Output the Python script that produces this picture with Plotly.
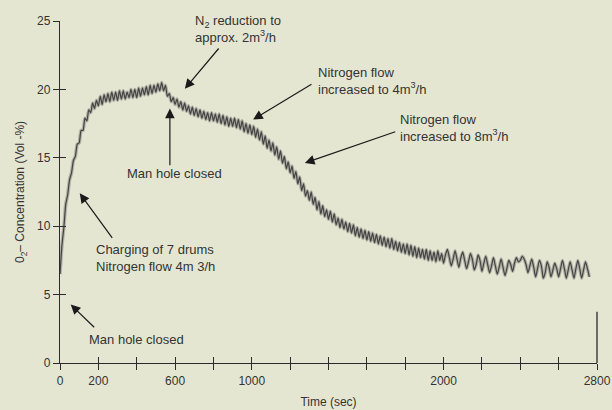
import plotly.graph_objects as go

# Sample times (s), every 10 s
TIME_SEC = list(range(0, 2770, 10))

# O2 concentration (Vol-%), one row per 100 s
O2_CONC = [
    6.5, 8.6, 9.9, 11.6, 12.3, 13.4, 13.9, 14.8, 15.1, 16.0,
    16.1, 17.0, 17.0, 17.9, 17.7, 18.5, 18.3, 19.0, 18.6, 19.2,
    18.8, 19.5, 18.9, 19.6, 19.1, 19.7, 19.1, 19.8, 19.2, 19.8,
    19.2, 19.9, 19.3, 19.9, 19.3, 19.8, 19.4, 20.0, 19.4, 20.0,
    19.4, 20.1, 19.5, 20.1, 19.6, 20.2, 19.6, 20.3, 19.7, 20.3,
    19.8, 20.4, 19.9, 20.5, 19.9, 20.3, 19.5, 19.7, 19.1, 19.4,
    18.9, 19.3, 18.7, 19.1, 18.5, 19.0, 18.4, 18.8, 18.2, 18.7,
    18.1, 18.6, 18.0, 18.5, 17.9, 18.4, 17.8, 18.3, 17.7, 18.3,
    17.7, 18.2, 17.6, 18.2, 17.5, 18.1, 17.4, 18.0, 17.3, 17.9,
    17.3, 17.9, 17.2, 17.8, 17.1, 17.7, 16.9, 17.5, 16.8, 17.4,
    16.7, 17.3, 16.5, 17.1, 16.3, 16.9, 16.0, 16.6, 15.7, 16.3,
    15.5, 16.1, 15.2, 15.8, 14.9, 15.5, 14.6, 15.1, 14.2, 14.7,
    13.9, 14.4, 13.5, 14.0, 13.1, 13.6, 12.6, 13.1, 12.2, 12.6,
    11.9, 12.5, 11.6, 12.1, 11.2, 11.8, 10.9, 11.5, 10.7, 11.2,
    10.5, 11.1, 10.3, 10.9, 10.1, 10.6, 9.9, 10.5, 9.8, 10.3,
    9.6, 10.2, 9.5, 10.1, 9.3, 9.9, 9.2, 9.8, 9.1, 9.7,
    9.0, 9.6, 8.9, 9.5, 8.8, 9.4, 8.7, 9.3, 8.6, 9.2,
    8.5, 9.1, 8.4, 9.1, 8.3, 8.9, 8.2, 8.8, 8.1, 8.7,
    8.0, 8.7, 7.9, 8.6, 7.8, 8.5, 7.7, 8.4, 7.7, 8.3,
    7.6, 8.3, 7.5, 8.2, 7.5, 8.1, 7.4, 8.2, 7.5, 8.0,
    7.3, 7.9, 8.3, 7.7, 7.1, 7.6, 8.2, 7.6, 7.0, 7.7,
    8.1, 7.5, 6.9, 7.4, 8.0, 7.6, 6.8, 7.2, 7.9, 7.5,
    6.7, 7.3, 7.8, 7.2, 6.6, 7.1, 7.7, 7.1, 6.5, 7.0,
    7.6, 7.0, 6.4, 6.9, 7.5, 7.2, 6.7, 7.3, 7.7, 7.4,
    7.5, 7.8, 7.6, 7.2, 6.6, 7.1, 7.6, 7.0, 6.3, 6.9,
    7.5, 7.1, 6.2, 6.6, 7.4, 7.0, 6.3, 6.8, 7.3, 6.9,
    6.3, 6.9, 7.5, 6.9, 6.2, 6.8, 7.4, 6.8, 6.2, 6.9,
    7.5, 6.9, 6.2, 6.8, 7.4, 6.9, 6.3,
]

X_TICK_VALS = list(range(0, 2801, 200))
X_TICK_LABELS = {0: "0", 200: "200", 600: "600", 1000: "1000", 2000: "2000", 2800: "2800"}
X_TICK_TEXT = [X_TICK_LABELS.get(v, "") for v in X_TICK_VALS]
Y_TICK_VALS = [0, 5, 10, 15, 20, 25]

BG = "#E5E6D1"
INK = "#2b2b2b"
FONT = "Liberation Sans, Arial, sans-serif"

fig = go.Figure()
# soft halo (blurred look of the scanned trace)
fig.add_trace(go.Scatter(x=TIME_SEC, y=O2_CONC, mode="lines",
                         line=dict(color="rgba(110,110,110,0.45)", width=3.5, shape="spline", smoothing=0.6),
                         hoverinfo="skip", showlegend=False, xaxis="x", yaxis="y"))
# main trace on overlay axes (which carry the inner half of the ticks)
fig.add_trace(go.Scatter(x=TIME_SEC, y=O2_CONC, mode="lines",
                         line=dict(color="#444444", width=1.2, shape="spline", smoothing=0.6),
                         showlegend=False, xaxis="x2", yaxis="y2"))

axis_common = dict(showgrid=False, zeroline=False, linecolor=INK, linewidth=1.3,
                   tickcolor=INK, tickwidth=1.3, ticklen=6, automargin=False)

fig.update_layout(
    width=612, height=410,
    margin=dict(l=60, r=15, t=21, b=47),
    paper_bgcolor=BG, plot_bgcolor=BG,
    font=dict(family=FONT, size=12, color="#333333"),
    xaxis=dict(range=[0, 2800], tickmode="array", tickvals=X_TICK_VALS, ticktext=X_TICK_TEXT,
               ticks="outside", showline=True, ticklabeloverflow="allow",
               title=dict(text="Time (sec)", font=dict(size=12), standoff=11),
               tickfont=dict(size=12), **axis_common),
    yaxis=dict(range=[0, 25], tickmode="array", tickvals=Y_TICK_VALS, ticks="outside", showline=True,
               title=dict(text="0<sub>2</sub>– Concentration (Vol -%)", font=dict(size=12), standoff=9),
               tickfont=dict(size=12), **axis_common),
    xaxis2=dict(range=[0, 2800], overlaying="x", anchor="y2", side="bottom", tickmode="array",
                tickvals=X_TICK_VALS, ticks="inside", showticklabels=False, showline=False,
                **axis_common),
    yaxis2=dict(range=[0, 25], overlaying="y", anchor="x2", side="left", tickmode="array",
                tickvals=Y_TICK_VALS, ticks="inside", showticklabels=False, showline=False,
                **axis_common),
)

# short vertical line at the right end of the time axis
fig.add_shape(type="line", xref="paper", yref="paper", x0=1, x1=1, y0=0, y1=0.15,
              line=dict(color=INK, width=1.3))

arrow_style = dict(showarrow=True, arrowhead=2, arrowsize=1.6, arrowwidth=1.2,
                   arrowcolor="#1a1a1a", axref="x", ayref="y", xref="x", yref="y",
                   text="", standoff=0, startstandoff=0)

# (head_x, head_y, tail_x, tail_y)
ARROWS = [
    (651, 20.05, 834, 23.1),
    (1007, 17.8, 1319, 20.45),
    (1277, 14.62, 1756, 16.94),
    (573, 18.6, 573, 14.35),
    (103, 12.4, 278, 9.04),
    (56, 4.27, 186, 2.51),
]
for hx, hy, tx, ty in ARROWS:
    fig.add_annotation(x=hx, y=hy, ax=tx, ay=ty, **arrow_style)

LABELS = [
    (693, 24.4, "left", "N<sub>2</sub> reduction to<br>approx. 2m<sup>3</sup>/h"),
    (1335, 20.64, "left", "Nitrogen flow<br>increased to 4m<sup>3</sup>/h"),
    (1764, 17.16, "left", "Nitrogen flow<br>increased to 8m<sup>3</sup>/h"),
    (595, 13.85, "center", "Man hole closed"),
    (177, 7.69, "left", "Charging of 7 drums<br>Nitrogen flow 4m 3/h"),
    (143, 1.71, "left", "Man hole closed"),
]
for lx, ly, anchor, txt in LABELS:
    fig.add_annotation(x=lx, y=ly, xref="x", yref="y", text=txt, showarrow=False,
                       xanchor=anchor, yanchor="middle", align="left",
                       font=dict(size=13, color="#333333", family=FONT))

fig.write_html("out.html", config={"displayModeBar": False},
               post_script="document.body.style.margin='0';")
